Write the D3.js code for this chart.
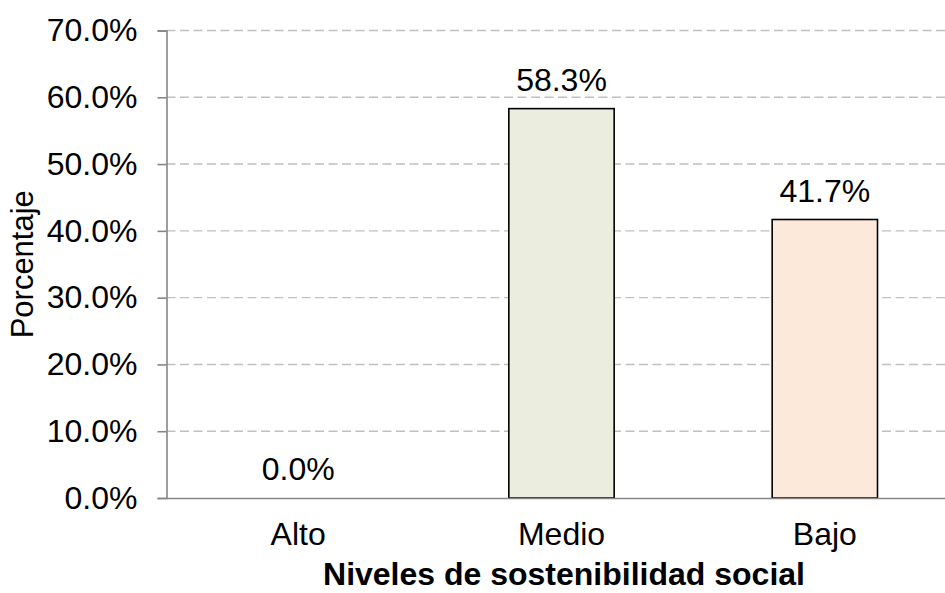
<!DOCTYPE html>
<html>
<head>
<meta charset="utf-8">
<script src="https://cdn.jsdelivr.net/npm/d3@7"></script>
<style>
  html, body { margin: 0; padding: 0; background: #fff; }
  svg { display: block; font-family: "Liberation Sans", Arial, sans-serif; }
</style>
</head>
<body>
<svg id="chart" width="945" height="593"></svg>
<script>
const categories = ["Alto", "Medio", "Bajo"];
const values = [0.0, 58.3, 41.7];
const barColors = ["#EBF1DE", "#EBEEDF", "#FDE9D9"];
const yTicks = [0, 10, 20, 30, 40, 50, 60, 70];
const xTitle = "Niveles de sostenibilidad social";
const yTitle = "Porcentaje";

const svg = d3.select("#chart");
const mLeft = 166.5, mRight = 956.5, mTop = 30.5, mBottom = 498;

const x = d3.scaleBand().domain(categories).range([mLeft, mRight])
  .paddingInner(0.6).paddingOuter(0.3);
const y = d3.scaleLinear().domain([0, 70]).range([mBottom, mTop]);

// gridlines
svg.append("g").selectAll("line")
  .data(yTicks.filter(d => d > 0))
  .join("line")
  .attr("x1", mLeft).attr("x2", 945)
  .attr("y1", d => y(d)).attr("y2", d => y(d))
  .attr("stroke", "#c0c0c0").attr("stroke-width", 1.4)
  .attr("stroke-dasharray", "9,4.5");

// y axis
const yAxis = svg.append("g")
  .attr("transform", `translate(${mLeft},0)`)
  .call(d3.axisLeft(y).tickValues(yTicks).tickFormat(d => d.toFixed(1) + "%")
    .tickSize(9).tickPadding(20));
yAxis.select(".domain").attr("stroke", "#868686").attr("stroke-width", 1.6);
yAxis.selectAll(".tick line").attr("stroke", "#868686").attr("stroke-width", 1.6);
yAxis.selectAll(".tick text").attr("font-size", 32).attr("fill", "#000")
  .attr("font-family", "'Liberation Sans', Arial, sans-serif");

// bars
svg.append("g").selectAll("rect")
  .data(categories.map((c, i) => ({ c, v: values[i], col: barColors[i] })).filter(d => d.v > 0))
  .join("rect")
  .attr("x", d => x(d.c))
  .attr("y", d => y(d.v))
  .attr("width", x.bandwidth())
  .attr("height", d => y(0) - y(d.v))
  .attr("fill", d => d.col)
  .attr("stroke", "#000").attr("stroke-width", 1.6);

// x axis
const xAxis = svg.append("g")
  .attr("transform", `translate(0,${mBottom})`)
  .call(d3.axisBottom(x).tickSize(0).tickPadding(24));
xAxis.select(".domain").attr("stroke", "#868686").attr("stroke-width", 1.6);
xAxis.selectAll(".tick text").attr("font-size", 32).attr("fill", "#000")
  .attr("font-family", "'Liberation Sans', Arial, sans-serif");

// data labels
svg.append("g").selectAll("text")
  .data(categories.map((c, i) => ({ c, v: values[i] })))
  .join("text")
  .attr("x", d => x(d.c) + x.bandwidth() / 2)
  .attr("y", d => y(d.v) - 18)
  .attr("text-anchor", "middle")
  .attr("font-size", 32)
  .attr("fill", "#000")
  .text(d => d.v.toFixed(1) + "%");

// axis titles
svg.append("text")
  .attr("x", 564)
  .attr("y", 585)
  .attr("text-anchor", "middle")
  .attr("font-size", 32)
  .attr("font-weight", "bold")
  .text(xTitle);

svg.append("text")
  .attr("transform", `translate(33,${(mTop + mBottom) / 2}) rotate(-90)`)
  .attr("text-anchor", "middle")
  .attr("font-size", 31)
  .text(yTitle);
</script>
</body>
</html>
